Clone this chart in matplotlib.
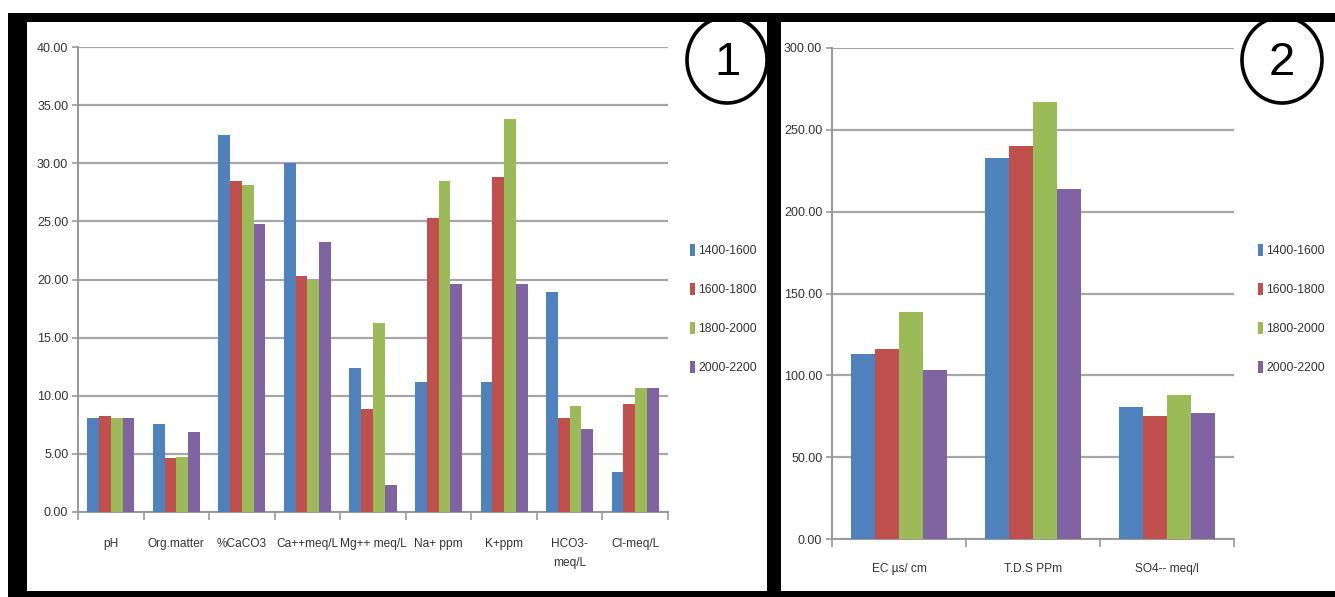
import numpy as np
import matplotlib
matplotlib.use('Agg')
import matplotlib.pyplot as plt
from matplotlib.patches import Rectangle, Ellipse

# soil / water analysis by altitude band
bands = ['1400-1600', '1600-1800', '1800-2000', '2000-2200']
colors = ['#4F81BD', '#C0504D', '#9BBB59', '#8064A2']

params1 = ['pH', 'Org.matter', '%CaCO3', 'Ca++meq/L', 'Mg++ meq/L',
           'Na+ ppm', 'K+ppm', 'HCO3-\nmeq/L', 'Cl-meq/L']
v1_1400 = [8.10, 7.55, 32.40, 30.00, 12.40, 11.20, 11.20, 18.95, 3.40]
v1_1600 = [8.25, 4.65, 28.50, 20.30, 8.90, 25.30, 28.80, 8.05, 9.30]
v1_1800 = [8.10, 4.75, 28.10, 20.00, 16.30, 28.50, 33.80, 9.15, 10.70]
v1_2000 = [8.10, 6.90, 24.75, 23.20, 2.30, 19.65, 19.65, 7.10, 10.70]

params2 = ['EC \u00b5s/ cm', 'T.D.S PPm', 'SO4-- meq/l']
v2_1400 = [113.0, 233.0, 80.7]
v2_1600 = [116.0, 240.0, 74.9]
v2_1800 = [139.0, 267.0, 88.2]
v2_2000 = [103.5, 213.6, 76.7]

plt.rcParams['font.family'] = ['Liberation Sans', 'DejaVu Sans']

W, H = 1335, 597
fig = plt.figure(figsize=(W / 100, H / 100), dpi=100)
fig.patch.set_facecolor('white')


def px(x, y):
    return x / W, 1 - y / H


def bar_panel(ax, cats, series, ymax, step, loc, xpad):
    n = len(cats)
    x = np.arange(n)
    w = 0.18
    for i, vals in enumerate(series):
        ax.bar(x + (i - 1.5) * w, vals, w, color=colors[i], label=bands[i], zorder=3)
    ax.set_xlim(-0.5, n - 0.5)
    ax.set_ylim(0, ymax)
    ax.set_yticks(np.arange(0, ymax + step / 2, step))
    ax.set_yticklabels(['%.2f' % t for t in np.arange(0, ymax + step / 2, step)])
    ax.set_xticks(x)
    ax.set_xticklabels(cats, linespacing=1.75)
    ax.set_xticks(np.arange(n + 1) - 0.5, minor=True)
    ax.tick_params(axis='x', which='major', length=0, pad=xpad, labelsize=8.6, colors='#333333')
    ax.tick_params(axis='x', which='minor', length=6, color='#999999', width=1.2)
    ax.tick_params(axis='y', length=4, color='#999999', width=1.2, labelsize=9,
                   colors='#333333', pad=3)
    ax.grid(axis='y', color='#A6A6A6', linewidth=1.6, zorder=0)
    ax.set_axisbelow(True)
    for s in ['top', 'right']:
        ax.spines[s].set_visible(False)
    for s in ['left', 'bottom']:
        ax.spines[s].set_color('#999999')
        ax.spines[s].set_linewidth(1.4)
    leg = ax.legend(loc='upper left', bbox_to_anchor=loc, bbox_transform=fig.transFigure,
                    frameon=False, handlelength=0.42, handleheight=1.1, handletextpad=0.25,
                    labelspacing=2.12, fontsize=8.8)
    for t in leg.get_texts():
        t.set_color('#333333')


l, t = px(78, 47)
r, b = px(668, 512)
ax1 = fig.add_axes([l, b, r - l, t - b])
bar_panel(ax1, params1, [v1_1400, v1_1600, v1_1800, v1_2000], 40, 5, px(679, 233), 19)

l, t = px(832, 48)
r, b = px(1234, 539)
ax2 = fig.add_axes([l, b, r - l, t - b])
bar_panel(ax2, params2, [v2_1400, v2_1600, v2_1800, v2_2000], 300, 50, px(1247, 233), 17)

# numbered circles
for cx, cy, label in [(727, 60, '1'), (1282, 60, '2')]:
    fig.patches.append(Ellipse(px(cx, cy), 80 / W, 86 / H, transform=fig.transFigure,
                               facecolor='white', edgecolor='black', linewidth=2.6, zorder=4))
    fig.text(*px(cx, cy + 3), label, ha='center', va='center', fontsize=34,
             family='Liberation Sans', zorder=6)

# black frame around the two panels
for x0, y0, x1, y1 in [(8, 13, W, 22), (8, 13, 27, H), (8, 591, W, H), (767, 13, 781, H)]:
    fig.patches.append(Rectangle(px(x0, y1), (x1 - x0) / W, (y1 - y0) / H,
                                 transform=fig.transFigure, facecolor='black',
                                 edgecolor='none', zorder=5))

fig.savefig('out.png', dpi=100, facecolor='white')
